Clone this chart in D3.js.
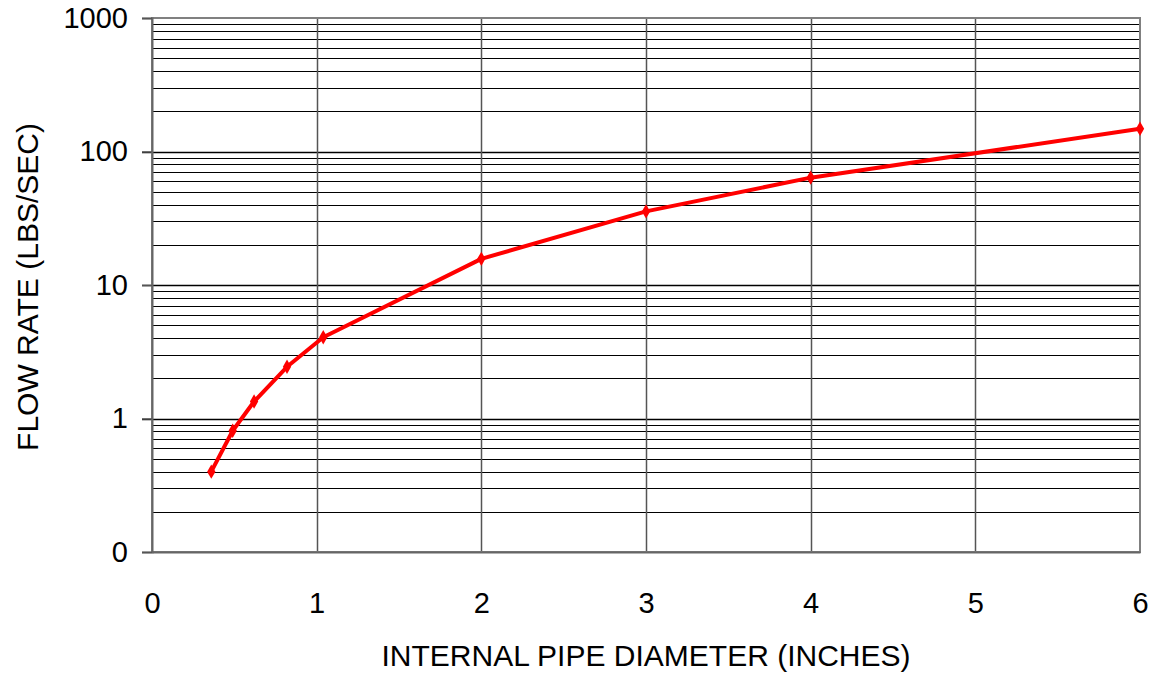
<meta charset="utf-8">
<script src="https://cdn.jsdelivr.net/npm/d3@7"></script>

<style>
  body { margin: 0; background: #fff; }
  text { font-family: "Liberation Sans", Arial, sans-serif; fill: #000; }
</style>

<div id="chart"></div>

<script>
// pipe inside diameter (inches) and flow rate (lbs/sec)
var diameters = [0.36, 0.49, 0.62, 0.82, 1.04, 2, 3, 4, 6];
var flowRates = [0.40, 0.81, 1.34, 2.44, 4.06, 15.7, 35.6, 63.7, 148];

var xTicks = [0, 1, 2, 3, 4, 5, 6];
var yTicks = [0.1, 1, 10, 100, 1000];
var yTickLabels = ["0", "1", "10", "100", "1000"];

var W = 1153, H = 673;
var margin = {top: 18, right: 13, bottom: 121, left: 152},
    width = W - margin.left - margin.right,
    height = H - margin.top - margin.bottom;

var svg = d3.select("#chart")
  .append("svg")
    .attr("width", W)
    .attr("height", H)
  .append("g")
    .attr("transform", "translate(" + margin.left + "," + margin.top + ")");

var x = d3.scaleLinear().domain([0, 6]).range([0, width]);
var y = d3.scaleLog().domain([0.1, 1000]).range([height, 0]);

// minor horizontal grid: 2..9 in each decade
var minor = [];
yTicks.slice(0, -1).forEach(function(d) {
  for (var k = 2; k <= 9; k++) minor.push(d * k);
});

svg.append("g")
  .selectAll("line")
  .data(minor)
  .enter().append("line")
    .attr("x1", 0).attr("x2", width)
    .attr("y1", function(d) { return Math.round(y(d)) + 0.5; })
    .attr("y2", function(d) { return Math.round(y(d)) + 0.5; })
    .attr("stroke", "#000")
    .attr("stroke-width", 1.2);

// major horizontal grid
svg.append("g")
  .selectAll("line")
  .data(yTicks.slice(1, -1))
  .enter().append("line")
    .attr("x1", -10).attr("x2", width)
    .attr("y1", function(d) { return Math.round(y(d)) + 0.5; })
    .attr("y2", function(d) { return Math.round(y(d)) + 0.5; })
    .attr("stroke", "#000")
    .attr("stroke-width", 1.5);

// vertical grid
svg.append("g")
  .selectAll("line")
  .data(xTicks.slice(1, -1))
  .enter().append("line")
    .attr("x1", function(d) { return Math.round(x(d)) + 0.5; })
    .attr("x2", function(d) { return Math.round(x(d)) + 0.5; })
    .attr("y1", 0).attr("y2", height)
    .attr("stroke", "#555")
    .attr("stroke-width", 1.5);

// frame
svg.append("rect")
  .attr("x", 0).attr("y", 0)
  .attr("width", width).attr("height", height)
  .attr("fill", "none")
  .attr("stroke", "#808080")
  .attr("stroke-width", 2);

// y axis
var yAxis = svg.append("g")
  .call(d3.axisLeft(y).tickValues(yTicks).tickSize(10).tickPadding(14)
        .tickFormat(function(d, i) { return yTickLabels[i]; }));
yAxis.select(".domain").attr("stroke", "#666").attr("stroke-width", 2);
yAxis.selectAll(".tick line").attr("stroke", "#555").attr("stroke-width", 1.5);
yAxis.selectAll("text")
  .attr("font-size", 29)
  .attr("font-family", "Liberation Sans, Arial, sans-serif")
  .attr("fill", "#000");

// x axis
var xAxis = svg.append("g")
  .attr("transform", "translate(0," + height + ")")
  .call(d3.axisBottom(x).tickValues(xTicks).tickSize(0).tickPadding(40)
        .tickFormat(d3.format("d")));
xAxis.select(".domain").attr("stroke", "#666").attr("stroke-width", 2);
xAxis.selectAll("text")
  .attr("font-size", 29)
  .attr("font-family", "Liberation Sans, Arial, sans-serif")
  .attr("fill", "#000");

// axis titles
svg.append("text")
  .attr("x", width / 2)
  .attr("y", height + 114)
  .attr("text-anchor", "middle")
  .attr("font-size", 30)
  .text("INTERNAL PIPE DIAMETER (INCHES)");

svg.append("text")
  .attr("transform", "translate(" + (-114) + "," + (height / 2 + 2) + ") rotate(-90)")
  .attr("text-anchor", "middle")
  .attr("font-size", 30)
  .text("FLOW RATE (LBS/SEC)");

// series
var pts = diameters.map(function(d, i) { return [d, flowRates[i]]; });

svg.append("path")
  .datum(pts)
  .attr("fill", "none")
  .attr("stroke", "#ff0000")
  .attr("stroke-width", 4)
  .attr("stroke-linejoin", "round")
  .attr("d", d3.line()
    .x(function(d) { return x(d[0]); })
    .y(function(d) { return y(d[1]); }));

svg.selectAll(".marker")
  .data(pts)
  .enter().append("path")
    .attr("class", "marker")
    .attr("transform", function(d) { return "translate(" + x(d[0]) + "," + y(d[1]) + ")"; })
    .attr("d", d3.symbol().type(d3.symbolDiamond).size(60))
    .attr("fill", "#ff0000");
</script>
